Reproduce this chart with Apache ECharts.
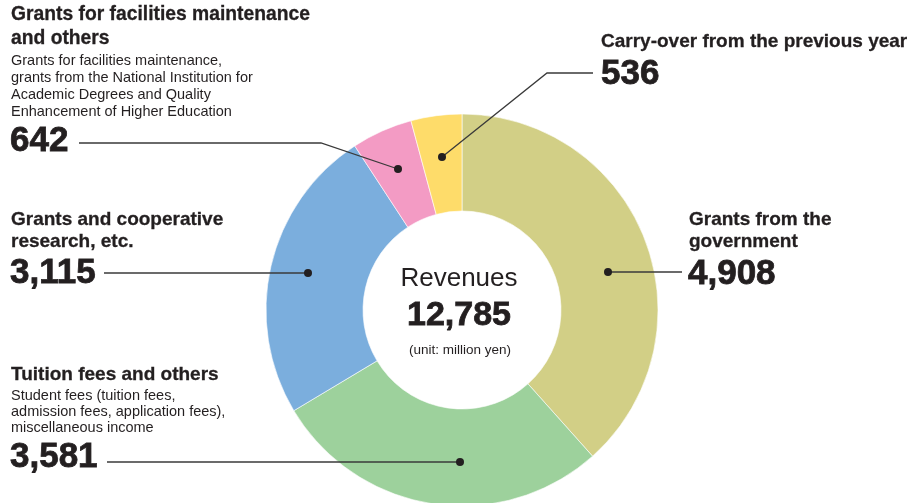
<!DOCTYPE html>
<html>
<head>
<meta charset="utf-8">
<script src="https://cdn.jsdelivr.net/npm/echarts@6/dist/echarts.min.js"></script>
<style>
html,body{margin:0;padding:0;background:#fff;}
#chart{width:912px;height:503px;}
</style>
</head>
<body>
<div id="chart"></div>
<script>
// ---- data ----
const categories = [
  'Grants from the government',
  'Tuition fees and others',
  'Grants and cooperative research, etc.',
  'Grants for facilities maintenance and others',
  'Carry-over from the previous year'
];
const values = [4908, 3581, 3115, 642, 536];
const colors = ['#D2CF86', '#9DD19C', '#7BAEDD', '#F39BC4', '#FEDC6A'];
const totalLabel = '12,785';

const FONT = "'Liberation Sans', Arial, sans-serif";
const INK = '#231F20';
const LINE = '#3a3a3a';

function fmt(v){ return v.toLocaleString('en-US'); }

function txt(x, y, text, size, bold, align, heavy){
  const st = {text:text, fill:INK, font:(bold?'bold ':'')+size+'px '+FONT, align:align||'left', verticalAlign:'middle'};
  if (heavy) { st.stroke = INK; st.lineWidth = heavy; }
  return {type:'text', x:x, y:y, z:10, style:st};
}
function poly(points){
  return {type:'polyline', z:10, shape:{points:points}, style:{stroke:LINE, lineWidth:1.3, fill:null}};
}
function dot(x, y){
  return {type:'circle', z:11, shape:{cx:x, cy:y, r:4}, style:{fill:INK}};
}

const chart = echarts.init(document.getElementById('chart'), null, {renderer:'canvas'});

const graphics = [
  // Grants for facilities
  txt(11, 15, 'Grants for facilities maintenance', 19.3, true, 'left', 0.3),
  txt(11, 38.5, 'and others', 19.3, true, 'left', 0.3),
  txt(11, 60.5, 'Grants for facilities maintenance,', 14.5, false),
  txt(11, 77.5, 'grants from the National Institution for', 14.5, false),
  txt(11, 94.5, 'Academic Degrees and Quality', 14.5, false),
  txt(11, 111.5, 'Enhancement of Higher Education', 14.5, false),
  txt(10, 141.5, fmt(values[3]), 35, true, 'left', 0.8),
  poly([[79,143],[321,143],[398,169]]), dot(398,169),
  // Carry-over
  txt(601, 42, 'Carry-over from the previous year', 19, true, 'left', 0.3),
  txt(601, 74.5, fmt(values[4]), 35, true, 'left', 0.8),
  poly([[593,73],[547,73],[442,157]]), dot(442,157),
  // Grants and cooperative
  txt(11, 219.5, 'Grants and cooperative', 19, true, 'left', 0.3),
  txt(11, 241.5, 'research, etc.', 19, true, 'left', 0.3),
  txt(10, 273.5, fmt(values[2]), 35, true, 'left', 0.8),
  poly([[104,273],[308,273]]), dot(308,273),
  // Tuition
  txt(11, 374.5, 'Tuition fees and others', 19, true, 'left', 0.3),
  txt(11, 396, 'Student fees (tuition fees,', 14.5, false),
  txt(11, 412, 'admission fees, application fees),', 14.5, false),
  txt(11, 428, 'miscellaneous income', 14.5, false),
  txt(10, 457.5, fmt(values[1]), 35, true, 'left', 0.8),
  poly([[107,462],[460,462]]), dot(460,462),
  // Grants from government
  txt(689, 219.5, 'Grants from the', 19, true, 'left', 0.3),
  txt(689, 241.5, 'government', 19, true, 'left', 0.3),
  txt(688, 274, fmt(values[0]), 35, true, 'left', 0.8),
  poly([[608,272],[682,272]]), dot(608,272),
  // Center
  txt(459, 279, 'Revenues', 26, false, 'center'),
  txt(459, 316, totalLabel, 34, true, 'center', 0.8),
  txt(460, 350, '(unit: million yen)', 13.5, false, 'center')
];

chart.setOption({
  animation:false,
  backgroundColor:'#ffffff',
  series:[{
    type:'pie',
    center:[462,310],
    radius:[99,196],
    startAngle:90,
    clockwise:true,
    label:{show:false},
    labelLine:{show:false},
    emphasis:{disabled:true},
    itemStyle:{borderColor:'#ffffff', borderWidth:0.6},
    data: categories.map((c,i)=>({name:c, value:values[i], itemStyle:{color:colors[i]}}))
  }],
  graphic: graphics
});
</script>
</body>
</html>
